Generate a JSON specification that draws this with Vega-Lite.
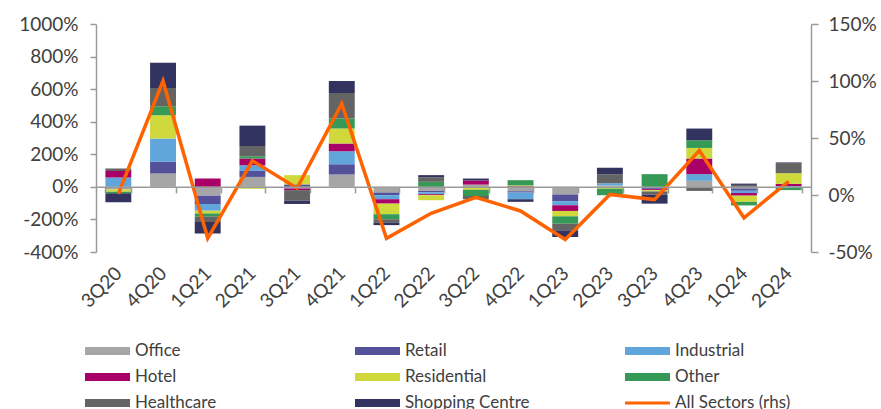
{
  "$schema": "https://vega.github.io/schema/vega-lite/v6.json",
  "autosize": {"type": "none"},
  "width": 715,
  "height": 228,
  "padding": {"left": 96, "top": 24, "right": 70, "bottom": 157},
  "background": "white",
  "config": {
    "view": {"stroke": null},
    "font": "Lato",
    "axis": {
      "labelFont": "Lato",
      "labelFontSize": 19,
      "labelColor": "#404040",
      "domainColor": "#9a9a9a",
      "domainWidth": 1.5,
      "tickColor": "#9a9a9a",
      "tickWidth": 1.5,
      "grid": false,
      "title": null
    },
    "legend": {
      "labelFont": "Lato",
      "labelFontSize": 17,
      "labelColor": "#404040"
    }
  },
  "data": {
    "values": [
      {"quarter": "3Q20", "Office": -16, "Retail": 0, "Industrial": 57, "Hotel": 41, "Residential": -14, "Other": -10, "Healthcare": 14, "Shopping Centre": -55, "All Sectors": 1},
      {"quarter": "4Q20", "Office": 82, "Retail": 72, "Industrial": 143, "Hotel": 0, "Residential": 143, "Other": 55, "Healthcare": 112, "Shopping Centre": 155, "All Sectors": 100},
      {"quarter": "1Q21", "Office": -55, "Retail": -51, "Industrial": -41, "Hotel": 51, "Residential": -16, "Other": -20, "Healthcare": -33, "Shopping Centre": -70, "All Sectors": -38},
      {"quarter": "2Q21", "Office": 61, "Retail": 37, "Industrial": 35, "Hotel": 41, "Residential": -12, "Other": 14, "Healthcare": 63, "Shopping Centre": 125, "All Sectors": 30},
      {"quarter": "3Q21", "Office": 0, "Retail": 15, "Industrial": -10, "Hotel": -10, "Residential": 57, "Other": 0, "Healthcare": -65, "Shopping Centre": -20, "All Sectors": 6},
      {"quarter": "4Q21", "Office": 76, "Retail": 63, "Industrial": 80, "Hotel": 47, "Residential": 92, "Other": 61, "Healthcare": 157, "Shopping Centre": 74, "All Sectors": 80},
      {"quarter": "1Q22", "Office": -35, "Retail": -16, "Industrial": -25, "Hotel": -27, "Residential": -65, "Other": -31, "Healthcare": -22, "Shopping Centre": -14, "All Sectors": -38},
      {"quarter": "2Q22", "Office": -25, "Retail": -8, "Industrial": -12, "Hotel": -6, "Residential": -31, "Other": 31, "Healthcare": 28, "Shopping Centre": 13, "All Sectors": -16},
      {"quarter": "3Q22", "Office": 14, "Retail": 0, "Industrial": 0, "Hotel": 25, "Residential": -18, "Other": -38, "Healthcare": -20, "Shopping Centre": 12, "All Sectors": -2},
      {"quarter": "4Q22", "Office": -27, "Retail": -8, "Industrial": -41, "Hotel": 4, "Residential": 5, "Other": 32, "Healthcare": 0, "Shopping Centre": -16, "All Sectors": -14},
      {"quarter": "1Q23", "Office": -47, "Retail": -41, "Industrial": -25, "Hotel": -35, "Residential": -33, "Other": -45, "Healthcare": -41, "Shopping Centre": -41, "All Sectors": -39},
      {"quarter": "2Q23", "Office": 8, "Retail": 0, "Industrial": 14, "Hotel": 0, "Residential": -12, "Other": -40, "Healthcare": 55, "Shopping Centre": 40, "All Sectors": 0.5},
      {"quarter": "3Q23", "Office": -8, "Retail": -6, "Industrial": 0, "Hotel": -6, "Residential": -8, "Other": 78, "Healthcare": -20, "Shopping Centre": -55, "All Sectors": -4},
      {"quarter": "4Q23", "Office": 37, "Retail": 0, "Industrial": 41, "Hotel": 96, "Residential": 65, "Other": 47, "Healthcare": -25, "Shopping Centre": 72, "All Sectors": 39},
      {"quarter": "1Q24", "Office": -10, "Retail": -14, "Industrial": -14, "Hotel": -16, "Residential": -38, "Other": -22, "Healthcare": 12, "Shopping Centre": 8, "All Sectors": -20},
      {"quarter": "2Q24", "Office": 0, "Retail": 0, "Industrial": 5, "Hotel": 14, "Residential": 65, "Other": -20, "Healthcare": 62, "Shopping Centre": 4, "All Sectors": 12}
    ]
  },
  "layer": [
    {
      "transform": [
        {"fold": ["Office", "Retail", "Industrial", "Hotel", "Residential", "Other", "Healthcare", "Shopping Centre"], "as": ["sector", "change"]},
        {"window": [{"op": "row_number", "as": "stackRank"}], "groupby": ["quarter"]}
      ],
      "mark": {"type": "bar"},
      "encoding": {
        "x": {
          "field": "quarter",
          "type": "nominal",
          "sort": null,
          "scale": {"paddingInner": 0.42, "paddingOuter": 0.21},
          "axis": {
            "orient": "bottom",
            "offset": -65.14,
            "zindex": 1,
            "tickBand": "extent",
            "tickSize": 6,
            "labelAngle": -45,
            "labelAlign": "right",
            "labelBaseline": "middle",
            "labelPadding": 77,
            "labelFontSize": 19
          }
        },
        "y": {
          "field": "change",
          "type": "quantitative",
          "stack": "zero",
          "scale": {"domain": [-400, 1000], "nice": false},
          "axis": {
            "orient": "left",
            "values": [-400, -200, 0, 200, 400, 600, 800, 1000],
            "labelExpr": "datum.value + '%'",
            "tickSize": 6,
            "labelPadding": 12
          }
        },
        "color": {
          "field": "sector",
          "type": "nominal",
          "scale": {
            "domain": ["Office", "Retail", "Industrial", "Hotel", "Residential", "Other", "Healthcare", "Shopping Centre", "All Sectors (rhs)"],
            "range": ["#a6a6a6", "#525199", "#60a6da", "#a80066", "#d0d93c", "#349a55", "#646464", "#33335f", "#ff6200"]
          },
          "legend": {
            "title": null,
            "orient": "none",
            "direction": "horizontal",
            "legendX": 2.5,
            "legendY": 318,
            "columns": 3,
            "gridAlign": "all",
            "columnPadding": 95,
            "rowPadding": 9,
            "padding": 0,
            "symbolSize": 324,
            "symbolType": "M-2.5,-0.45H2.5V0.45H-2.5Z",
            "symbolStrokeWidth": 0,
            "labelOffset": 18.5,
            "labelFontSize": 17,
            "encode": {
              "symbols": {
                "update": {
                  "shape": {"signal": "datum.value === 'All Sectors (rhs)' ? 'M-2.5,-0.17H2.5V0.17H-2.5Z' : 'M-2.5,-0.45H2.5V0.45H-2.5Z'"}
                }
              }
            }
          }
        },
        "order": {"field": "stackRank", "type": "quantitative", "sort": "ascending"}
      }
    },
    {
      "mark": {"type": "line", "color": "#ff6200", "strokeWidth": 3.5, "strokeJoin": "miter"},
      "encoding": {
        "x": {"field": "quarter", "type": "nominal", "sort": null},
        "y": {
          "field": "All Sectors",
          "type": "quantitative",
          "scale": {"domain": [-50, 150], "nice": false},
          "axis": {
            "orient": "right",
            "values": [-50, 0, 50, 100, 150],
            "labelExpr": "datum.value + '%'",
            "tickSize": 7,
            "labelPadding": 10
          }
        }
      }
    }
  ],
  "resolve": {"scale": {"y": "independent"}}
}
